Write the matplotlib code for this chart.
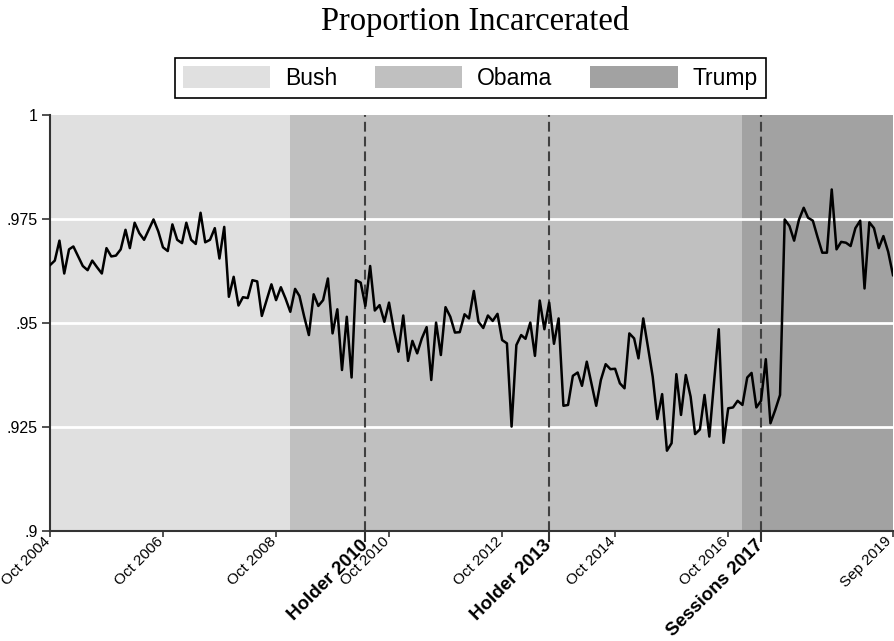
import matplotlib
matplotlib.use("Agg")
import matplotlib.pyplot as plt
import matplotlib.patches as mpatches
from matplotlib.transforms import ScaledTranslation
import pandas as pd

# Monthly share of sentenced offenders receiving a prison term, Oct 2004 - Sep 2019
proportion = [
    0.9639, 0.9650, 0.9698, 0.9619, 0.9677, 0.9684, 0.9660, 0.9637, 0.9627, 0.9650,
    0.9634, 0.9619, 0.9680, 0.9660, 0.9662, 0.9677, 0.9724, 0.9680, 0.9741, 0.9716,
    0.9700, 0.9724, 0.9749, 0.9720, 0.9682, 0.9673, 0.9737, 0.9700, 0.9692, 0.9741,
    0.9700, 0.9690, 0.9765, 0.9694, 0.9700, 0.9728, 0.9655, 0.9731, 0.9563, 0.9611,
    0.9542, 0.9562, 0.9560, 0.9603, 0.9600, 0.9517, 0.9555, 0.9593, 0.9555, 0.9586,
    0.9559, 0.9527, 0.9582, 0.9565, 0.9515, 0.9471, 0.9569, 0.9541, 0.9555, 0.9607,
    0.9475, 0.9533, 0.9387, 0.9515, 0.9369, 0.9603, 0.9597, 0.9541, 0.9637, 0.9530,
    0.9543, 0.9503, 0.9549, 0.9483, 0.9431, 0.9518, 0.9409, 0.9457, 0.9427, 0.9463,
    0.9490, 0.9363, 0.9501, 0.9423, 0.9538, 0.9515, 0.9477, 0.9478, 0.9521, 0.9511,
    0.9577, 0.9503, 0.9488, 0.9518, 0.9505, 0.9522, 0.9459, 0.9451, 0.9251, 0.9447,
    0.9471, 0.9462, 0.9501, 0.9421, 0.9554, 0.9485, 0.9549, 0.9450, 0.9511, 0.9301,
    0.9303, 0.9373, 0.9381, 0.9349, 0.9407, 0.9355, 0.9301, 0.9363, 0.9401, 0.9389,
    0.9390, 0.9355, 0.9343, 0.9475, 0.9463, 0.9415, 0.9511, 0.9443, 0.9371, 0.9269,
    0.9329, 0.9193, 0.9211, 0.9377, 0.9279, 0.9375, 0.9323, 0.9233, 0.9244, 0.9327,
    0.9227, 0.9356, 0.9485, 0.9212, 0.9295, 0.9297, 0.9313, 0.9303, 0.9369, 0.9380,
    0.9297, 0.9313, 0.9413, 0.9259, 0.9291, 0.9327, 0.9749, 0.9733, 0.9698, 0.9748,
    0.9777, 0.9753, 0.9746, 0.9707, 0.9669, 0.9669, 0.9821, 0.9677, 0.9695, 0.9693,
    0.9685, 0.9728, 0.9746, 0.9583, 0.9742, 0.9728, 0.9680, 0.9709, 0.9671, 0.9615,
]
months = pd.date_range("2004-10-01", periods=len(proportion), freq="MS")

# Presidential administrations
admin_names = ["Bush", "Obama", "Trump"]
admin_starts = ["2004-10-01", "2009-01-01", "2017-01-01"]
admin_ends = ["2009-01-01", "2017-01-01", "2019-09-01"]
admin_colors = ["#e0e0e0", "#c0c0c0", "#a2a2a2"]

# Charging-policy memos
memo_labels = ["Holder 2010", "Holder 2013", "Sessions 2017"]
memo_dates = ["2010-05-01", "2013-08-01", "2017-05-01"]

date_ticks = ["2004-10-01", "2006-10-01", "2008-10-01", "2010-10-01",
              "2012-10-01", "2014-10-01", "2016-10-01", "2019-09-01"]
date_tick_labels = ["Oct 2004", "Oct 2006", "Oct 2008", "Oct 2010",
                    "Oct 2012", "Oct 2014", "Oct 2016", "Sep 2019"]
y_ticks = [0.9, 0.925, 0.95, 0.975, 1.0]
y_tick_labels = [".9", ".925", ".95", ".975", "1"]

plt.rcParams["font.family"] = ["Liberation Sans", "DejaVu Sans"]

fig = plt.figure(figsize=(8.95, 6.41), dpi=100)
ax = fig.add_axes([50 / 895, 110 / 641, 843 / 895, 416 / 641])

for s, e, c in zip(admin_starts, admin_ends, admin_colors):
    ax.axvspan(pd.Timestamp(s), pd.Timestamp(e), color=c, lw=0, zorder=0)

for y in y_ticks[1:-1]:
    ax.axhline(y, color="white", lw=2, zorder=1)

for d in memo_dates:
    ax.axvline(pd.Timestamp(d), color="#404040", lw=1.5,
               linestyle=(0, (4.7, 2.4)), zorder=2)

ax.plot(months, proportion, color="black", lw=1.8, zorder=3)

ax.set_xlim(pd.Timestamp(date_ticks[0]), pd.Timestamp(date_ticks[-1]))
ax.set_ylim(0.9, 1.0)

ax.set_yticks(y_ticks)
ax.set_yticklabels(y_tick_labels, fontsize=11.5)
ax.tick_params(axis="y", length=6, width=1.2, color="#333333", pad=3)

ax.set_xticks([pd.Timestamp(d) for d in date_ticks])
ax.set_xticklabels(date_tick_labels, rotation=45, ha="right", va="center",
                   rotation_mode="anchor", fontsize=11)
ax.set_xticks([pd.Timestamp(d) for d in memo_dates], minor=True)
ax.set_xticklabels(memo_labels, minor=True, rotation=45, ha="right",
                   va="center", rotation_mode="anchor", fontsize=13.5,
                   fontweight="bold")
ax.tick_params(axis="x", which="major", length=4, width=1.2,
               color="#333333", pad=2)
ax.tick_params(axis="x", which="minor", length=8, width=1.5,
               color="#333333", pad=0.5)

# nudge the date labels so their ends sit on the tick marks
major_ticks = ax.xaxis.get_major_ticks()
for i, tick in enumerate(major_ticks):
    dx = -3.5 if i == len(major_ticks) - 1 else -2.0
    lab = tick.label1
    lab.set_transform(lab.get_transform()
                      + ScaledTranslation(dx / 100, 0, fig.dpi_scale_trans))

for side in ("top", "right"):
    ax.spines[side].set_visible(False)
for side in ("left", "bottom"):
    ax.spines[side].set_color("#333333")
    ax.spines[side].set_linewidth(1.5)

fig.text(475 / 895, 1 - 30 / 641, "Proportion Incarcerated",
         family="Liberation Serif", fontsize=23.5, ha="center", va="baseline")

handles = [mpatches.Patch(facecolor=c, edgecolor="none", label=n)
           for n, c in zip(admin_names, admin_colors)]
leg = fig.legend(handles=handles, loc="center", ncol=3,
                 bbox_to_anchor=(470.5 / 895, 1 - 78 / 641),
                 fontsize=16.5, handlelength=3.8, handleheight=1.05,
                 handletextpad=0.65, columnspacing=1.65, borderpad=0.35,
                 fancybox=False, framealpha=1, frameon=True)
leg.get_frame().set_edgecolor("black")
leg.get_frame().set_linewidth(1.2)

fig.savefig("out.png", dpi=100)
